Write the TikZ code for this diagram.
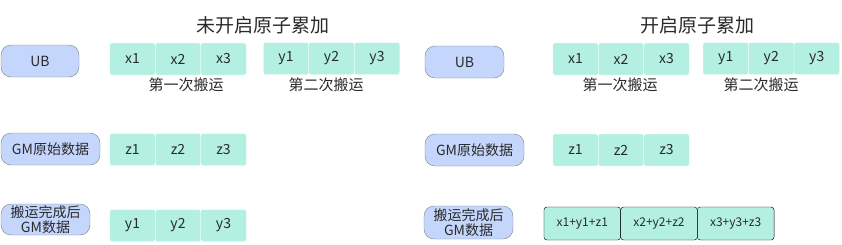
\documentclass[tikz,border=0pt]{standalone}
\usepackage{fontspec}
\setmainfont{Noto Sans CJK SC}
\definecolor{celda}{HTML}{B3F0E2}
\definecolor{pastilla}{HTML}{C4D6FB}
\definecolor{texto}{HTML}{2A2A2A}

\begin{document}
\begin{tikzpicture}[x=1pt,y=-1pt,text=texto,
  pill/.style={draw=black!50,fill=pastilla,rounded corners=10pt,minimum height=32pt,inner sep=0pt,align=center,font=\fontsize{14}{15}\selectfont},
  cell/.style={draw=white,fill=celda,rounded corners=2pt,minimum width=45.5pt,minimum height=32pt,inner sep=0pt,font=\fontsize{14}{14}\selectfont},
  sumcell/.style={cell,draw=black,rounded corners=3pt,minimum width=76.7pt,minimum height=33pt,font=\fontsize{12}{12}\selectfont},
  lbl/.style={font=\fontsize{15}{15}\selectfont},
  titulo/.style={font=\fontsize{19}{19}\selectfont}]
  \useasboundingbox (0,0) rectangle (842,244);
  % sin acumulacion atomica
  \node[titulo] (tA) at (263,25) {未开启原子累加};
  \node[pill,minimum width=78pt] (ubA) at (40,61) {UB};
  \node[pill,minimum width=99pt] (gmA) at (50.5,149) {GM原始数据};
  \node[pill,minimum width=89pt,minimum height=31pt] (resA) at (45.5,219.5) {搬运完成后\\GM数据};
  \foreach \i in {1,2,3}{
    \node[cell] (xA\i) at ({132.5+45.5*(\i-1)},59) {x\i};
    \node[cell] (yA\i) at ({286+45.5*(\i-1)},58.5) {y\i};
    \node[cell] (zA\i) at ({132.5+45.5*(\i-1)},149.5) {z\i};
    \node[cell] (rA\i) at ({132.5+45.5*(\i-1)},225.5) {y\i};
  }
  \node[lbl] (m1A) at (186,85) {第一次搬运};
  \node[lbl] (m2A) at (326,85) {第二次搬运};
  % con acumulacion atomica
  \node[titulo] (tB) at (697,25) {开启原子累加};
  \node[pill,minimum width=79pt] (ubB) at (464.5,62) {UB};
  \node[pill,minimum width=99pt] (gmB) at (474.5,150) {GM原始数据};
  \node[pill,minimum width=89pt,minimum height=33pt] (resB) at (468.5,222.5) {搬运完成后\\GM数据};
  \foreach \i in {1,2,3}{
    \node[cell] (xB\i) at ({575.5+45.5*(\i-1)},59) {x\i};
    \node[cell] (yB\i) at ({725.75+45.5*(\i-1)},58.5) {y\i};
    \node[cell] (zB\i) at ({575.5+45.5*(\i-1)},150) {z\i};
    \node[sumcell] (rB\i) at ({582.3+76.7*(\i-1)},223.5) {x\i+y\i+z\i};
  }
  \node[lbl] (m1B) at (620,85) {第一次搬运};
  \node[lbl] (m2B) at (761,85) {第二次搬运};
\end{tikzpicture}
\end{document}
